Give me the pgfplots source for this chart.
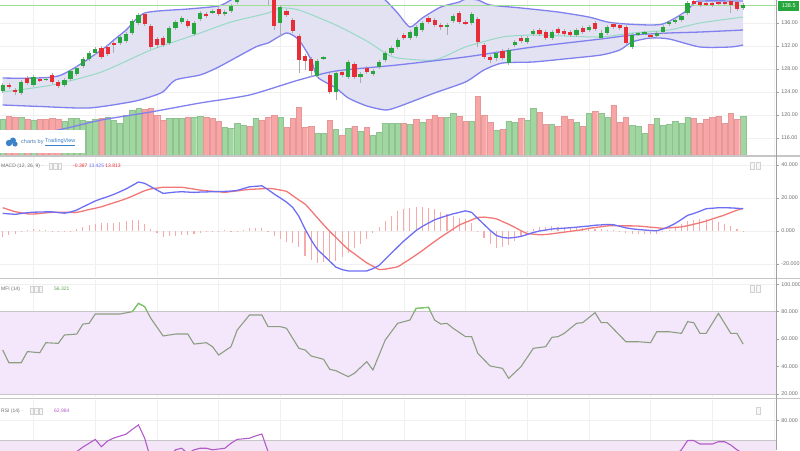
\documentclass[border=0pt]{standalone}
\usepackage{pgfplots}
\pgfplotsset{compat=1.18}
\usepackage{pgfplotstable}
\usepgfplotslibrary{fillbetween}
\usepackage{fontspec}
\setmainfont{Liberation Sans}
\setsansfont{Liberation Sans}

\definecolor{cgreen}{RGB}{38,166,60}
\definecolor{cred}{RGB}{232,45,55}
\definecolor{vgreen}{RGB}{160,214,160}
\definecolor{vred}{RGB}{248,165,166}
\definecolor{bandline}{RGB}{128,128,238}
\definecolor{bandfill}{RGB}{226,226,243}
\definecolor{midline}{RGB}{150,218,196}
\definecolor{macdblue}{RGB}{110,110,245}
\definecolor{macdred}{RGB}{242,120,120}
\definecolor{histc}{RGB}{246,170,170}
\definecolor{mfiline}{RGB}{140,158,128}
\definecolor{mfigreen}{RGB}{120,200,100}
\definecolor{mfifill}{RGB}{244,231,252}
\definecolor{rsiline}{RGB}{178,92,200}
\definecolor{rsifill}{RGB}{243,230,246}
\definecolor{lastgreen}{RGB}{160,222,150}
\definecolor{tvblue}{RGB}{60,130,200}
\definecolor{axgray}{RGB}{160,160,160}
\definecolor{txgray}{RGB}{110,110,110}

% i open high low close volume volume-up
\pgfplotstableread{
i o h l c vol vu
0 124.17 125.57 123.83 125.22 36 1
1 125.22 125.57 124.52 124.87 39 0
2 124.35 124.70 123.48 124.00 38 0
3 123.83 126.09 123.48 125.74 38 1
4 126.43 126.78 125.22 125.57 36 0
5 125.22 126.96 124.87 126.61 35 1
6 126.17 126.43 125.74 126.00 36 0
7 126.09 126.61 125.91 126.26 36 0
8 126.96 127.30 125.39 125.74 37 0
9 125.74 126.09 124.70 125.04 36 0
10 125.22 126.43 124.87 126.09 34 1
11 126.26 128.00 125.91 127.65 37 1
12 127.13 128.52 126.78 128.17 37 1
13 128.52 130.09 128.17 129.74 35 1
14 129.74 131.13 129.39 130.78 34 1
15 130.78 131.83 130.43 131.48 36 1
16 131.65 132.00 129.74 130.09 37 0
17 131.83 132.17 130.26 130.61 38 1
18 132.52 132.87 130.78 132.35 35 1
19 132.52 133.91 132.17 133.57 32 1
20 132.87 134.43 132.52 134.09 40 1
21 134.26 136.70 133.91 136.35 45 1
22 136.00 137.74 135.65 137.39 47 1
23 137.57 137.91 135.48 135.83 46 0
24 135.48 135.83 131.48 131.83 47 0
25 133.22 133.57 131.65 132.17 40 0
26 133.39 133.74 131.83 132.17 35 0
27 132.52 135.48 132.17 135.13 37 1
28 135.13 136.52 134.78 136.17 37 1
29 136.17 137.22 135.83 136.87 37 1
30 136.35 136.70 135.13 135.48 38 0
31 134.09 136.35 133.74 136.00 38 1
32 136.70 138.09 136.35 137.74 39 1
33 137.57 137.91 136.87 137.22 38 0
34 137.91 138.43 137.57 138.09 37 0
35 138.43 138.78 137.22 137.57 34 0
36 137.57 138.26 137.22 137.91 28 1
37 138.09 139.30 137.74 138.96 27 1
38 139.65 141.50 139.30 141.04 32 1
39 141.00 142.60 140.70 142.20 30 1
40 142.30 142.80 141.20 141.60 29 0
41 141.60 143.00 141.30 142.60 37 1
42 142.40 142.80 140.80 141.50 35 0
43 141.80 142.30 139.13 141.00 38 0
44 140.87 141.30 134.78 135.48 40 0
45 136.00 139.13 133.57 138.78 38 1
46 138.09 138.43 137.04 137.39 28 0
47 136.52 136.87 134.26 134.61 37 0
48 133.74 134.09 127.30 129.57 48 0
49 130.26 130.61 127.83 129.39 28 0
50 129.74 130.09 126.61 127.65 29 0
51 126.78 129.74 126.43 129.39 22 1
52 129.83 130.26 129.57 130.00 22 1
53 126.96 127.30 123.65 124.00 35 0
54 124.00 127.65 122.61 127.30 26 1
55 127.48 127.83 126.61 126.96 20 0
56 126.61 129.57 126.26 129.22 27 1
57 128.87 129.22 126.26 126.61 29 0
58 126.61 127.48 125.57 127.13 24 1
59 128.17 128.52 127.13 127.48 28 0
60 127.13 128.00 126.78 127.65 20 1
61 128.35 129.57 128.00 129.22 23 1
62 129.57 131.13 129.22 130.78 32 1
63 130.78 132.00 130.43 131.65 32 1
64 131.83 133.39 131.48 133.04 32 1
65 133.91 134.26 133.04 133.39 32 0
66 133.39 134.78 133.04 134.43 31 1
67 133.74 135.65 133.39 135.30 36 0
68 134.78 136.35 134.43 136.00 33 1
69 136.87 137.22 135.83 136.17 36 0
70 136.52 136.87 135.30 135.65 40 0
71 135.65 136.00 134.78 135.30 38 0
72 135.30 136.00 133.91 135.65 38 1
73 136.35 137.57 136.00 137.22 42 1
74 137.74 138.09 135.83 136.17 39 0
75 136.17 136.52 135.65 136.00 34 0
76 136.00 137.91 135.65 137.57 34 1
77 136.70 137.04 131.83 132.70 59 0
78 132.17 132.52 129.74 130.09 40 0
79 130.09 130.43 129.04 129.57 33 0
80 129.91 131.13 129.39 130.78 25 1
81 131.13 131.48 129.57 129.91 26 0
82 129.04 131.65 128.70 131.30 34 1
83 132.17 133.04 131.83 132.70 33 1
84 133.39 133.74 132.52 132.87 37 0
85 132.70 133.74 132.35 133.39 35 1
86 134.09 134.96 133.74 134.61 47 1
87 134.78 135.13 133.74 134.09 43 0
88 134.43 134.78 133.04 133.39 31 0
89 133.39 134.78 133.04 134.43 31 1
90 134.96 135.30 133.91 134.26 29 0
91 134.61 134.96 133.74 134.09 39 0
92 134.43 134.78 133.57 133.91 36 0
93 133.91 135.13 133.57 134.78 33 1
94 135.13 135.48 134.09 134.43 29 0
95 134.78 135.65 134.43 135.30 42 1
96 136.00 136.35 134.61 134.96 44 0
97 133.39 134.78 133.04 134.26 42 1
98 134.26 135.65 133.91 135.30 38 1
99 135.83 136.17 134.96 135.30 50 0
100 135.65 136.00 134.78 135.13 33 0
101 135.30 135.65 132.17 132.52 38 0
102 131.83 134.26 131.48 133.91 30 1
103 134.00 134.43 133.74 134.17 29 1
104 134.17 134.61 133.91 134.35 22 1
105 133.91 134.26 133.22 133.57 31 0
106 133.74 134.61 133.39 134.26 37 1
107 134.43 135.65 134.09 135.30 30 1
108 135.83 136.52 135.48 136.17 31 1
109 136.17 136.87 135.83 136.52 34 1
110 136.52 137.57 136.17 137.22 32 1
111 137.74 139.83 137.39 139.48 38 1
112 139.83 140.17 138.96 139.30 37 0
113 139.65 140.00 138.78 139.13 32 0
114 139.48 139.83 138.96 139.30 36 0
115 139.48 139.83 138.78 139.13 38 0
116 139.52 139.83 139.13 139.40 39 0
117 139.52 139.83 139.13 139.40 32 0
118 139.83 140.17 137.74 139.13 42 0
119 139.65 140.00 138.09 138.43 36 0
120 138.61 139.48 138.26 139.13 39 1
}\candles

\pgfplotstableread{
i p
0 126.43
9 126.78
16 131.30
18 133.04
20 134.78
23 137.74
30 138.43
35 138.96
37 140.00
39 141.04
42 141.74
48 143.13
55 142.61
60 141.39
62 140.00
64 137.74
66 135.30
68 136.87
71 138.78
74 139.65
75 140.17
77 140.00
79 139.13
84 138.61
90 137.91
95 137.04
98 136.17
101 135.83
105 135.65
107 135.83
109 136.87
111 138.26
112 139.48
113 139.83
120 139.83
}\bandup

\pgfplotstableread{
i p
0 124.00
8 125.22
16 127.48
24 131.30
32 134.26
37 136.17
43 137.74
45 138.61
48 138.26
54 135.65
59 132.87
62 130.78
64 129.91
70 129.57
75 131.83
81 133.57
86 133.91
91 133.74
97 133.57
102 134.26
108 134.78
113 136.00
120 137.04
}\bandmid

\pgfplotstableread{
i p
0 121.74
6 121.48
14 121.22
21 122.31
24 123.18
26 124.05
28 126.09
32 126.96
35 128.35
41 131.83
43 132.52
46 134.26
48 133.04
50 129.57
51 126.61
54 124.70
56 122.96
59 121.57
62 120.87
64 121.39
70 123.83
75 125.74
78 127.83
81 129.04
86 129.22
91 129.74
97 130.43
100 131.30
102 132.70
105 133.39
108 133.22
113 131.83
118 131.83
120 132.17
}\bandlo

\pgfplotstableread{
i p
0 115.65
9 117.39
16 119.13
24 120.52
32 122.09
40 123.48
48 126.09
54 127.65
64 128.70
75 130.09
86 131.83
97 133.22
102 133.91
108 134.26
113 134.43
120 134.78
}\longma

% MACD line m, signal s
\pgfplotstableread{
i m s
0 10.7 14.1
1 10.4 12.9
2 10.1 11.7
3 10.6 11.1
4 11.1 10.4
5 11.4 10.3
6 11.5 10.6
7 11.6 11.0
8 11.6 11.3
9 11.2 11.3
10 10.8 11.3
11 11.5 11.3
12 12.7 11.3
13 14.6 12.1
14 16.4 13.0
15 18.2 13.8
16 19.6 14.7
17 20.8 15.9
18 22.2 17.1
19 23.8 18.3
20 25.5 19.6
21 27.6 21.1
22 29.7 22.8
23 28.9 24.4
24 26.9 25.5
25 24.8 26.0
26 22.8 26.5
27 23.2 26.5
28 23.6 26.5
29 23.8 26.5
30 23.6 26.0
31 23.4 25.4
32 23.6 24.8
33 23.7 24.4
34 23.8 24.1
35 23.9 23.8
36 24.0 23.4
37 24.2 23.9
38 24.6 24.3
39 25.7 24.8
40 26.8 25.2
41 27.1 25.4
42 27.4 25.6
43 25.1 25.8
44 22.4 25.5
45 20.0 24.8
46 17.5 24.0
47 14.3 21.4
48 8.9 18.8
49 1.2 16.3
50 -5.5 12.3
51 -11.2 8.0
52 -14.7 3.8
53 -18.3 -0.2
54 -21.9 -3.9
55 -23.4 -7.6
56 -24.2 -11.1
57 -24.2 -13.8
58 -24.2 -16.6
59 -24.2 -19.3
60 -22.8 -21.3
61 -20.9 -23.3
62 -17.1 -23.1
63 -13.4 -22.4
64 -9.7 -21.7
65 -6.1 -19.4
66 -2.9 -17.0
67 0.3 -14.5
68 2.8 -11.9
69 4.8 -9.1
70 6.8 -6.4
71 8.1 -3.7
72 9.3 -1.3
73 10.4 1.2
74 11.3 3.6
75 12.2 5.2
76 11.3 6.7
77 7.6 8.2
78 4.0 8.4
79 0.4 8.0
80 -2.7 7.4
81 -3.9 5.7
82 -4.3 4.1
83 -3.9 2.2
84 -3.3 0.2
85 -2.1 -1.5
86 -0.9 -1.9
87 0.0 -2.3
88 0.6 -2.1
89 1.2 -1.7
90 1.5 -1.2
91 1.7 -0.7
92 2.0 -0.2
93 2.3 0.3
94 2.7 0.8
95 3.0 1.6
96 3.5 2.1
97 3.7 2.6
98 4.0 3.1
99 3.8 3.2
100 2.9 3.2
101 1.9 3.1
102 1.3 3.1
103 0.9 3.0
104 0.6 2.7
105 0.3 2.3
106 0.1 2.0
107 1.2 1.6
108 2.7 1.9
109 4.6 2.2
110 7.0 2.5
111 9.5 3.2
112 10.6 4.1
113 12.0 5.0
114 13.5 6.0
115 13.8 7.3
116 14.1 8.5
117 14.1 9.7
118 14.0 11.2
119 13.8 12.6
120 13.43 13.81
}\macd

\pgfplotstableread{
i v
0 52.1
1 42.8
3 42.8
4 50.9
6 50.1
7 57.4
9 56.9
10 63.0
12 63.7
13 71.0
14 71.5
15 78.3
19 78.3
21 80.0
22 86.1
23 83.7
24 75.2
26 62.3
28 63.7
30 63.7
31 56.4
32 56.9
33 57.4
34 54.5
35 48.4
37 54.5
38 66.6
40 77.6
42 77.6
43 69.1
45 69.1
46 67.9
48 53.3
49 52.1
50 47.7
52 45.3
53 38.0
54 37.0
56 32.6
57 35.1
59 43.6
60 37.5
62 59.4
64 71.5
66 73.9
67 82.4
69 83.2
70 73.9
71 71.0
72 71.5
73 67.9
75 61.8
76 61.8
77 49.6
79 40.4
81 38.7
82 31.4
84 39.9
86 53.3
88 54.5
89 61.3
90 61.8
91 64.2
93 71.5
94 72.0
96 79.3
97 72.0
98 72.0
101 58.1
103 58.1
105 57.4
106 65.4
108 65.4
110 64.2
111 72.7
112 72.0
113 64.2
114 64.2
116 78.8
118 64.2
119 64.2
120 56.4
}\mfi

\pgfplotstableread{
i v
0 55.0
4 52.0
8 57.0
11 61.0
12 64.0
13 66.3
14 68.3
15 70.3
16 66.5
17 69.5
18 71.0
19 72.0
20 73.0
21 75.5
22 77.8
23 71.0
24 60.0
26 58.0
28 64.9
29 65.7
30 63.0
31 64.9
32 65.7
33 65.7
34 64.9
36 65.7
37 68.3
38 70.3
40 70.9
41 72.1
42 73.1
43 64.0
44 60.0
46 50.0
50 35.0
54 28.0
58 32.0
62 42.0
66 52.0
70 57.0
74 58.0
78 48.0
82 40.0
86 48.0
90 53.0
94 56.0
98 58.0
102 52.0
106 56.0
109 62.0
110 64.9
111 69.7
112 69.7
113 67.9
115 67.9
116 69.1
117 69.1
118 67.4
119 64.9
120 63.0
}\rsi

\pgfplotsset{
  panel/.style={
    scale only axis, width=776pt, xmin=-0.44, xmax=125.33,
    anchor=north west,
    axis line style={draw=none},
    xtick={5,15,...,125}, xticklabels={}, major x tick style={draw=none},
    ytick pos=right, yticklabel pos=right,
    tick align=outside, major tick length=3pt,
    y tick style={draw=axgray, line width=0.5pt},
    yticklabel style={font=\fontsize{5.4}{6}\selectfont, text=txgray, xshift=-1.2pt,
      /pgf/number format/fixed, /pgf/number format/fixed zerofill,
      /pgf/number format/assume math mode=true},
    grid=major, grid style={draw=black!6, line width=0.5pt},
    clip=true,
  },
}

\begin{document}
\begin{tikzpicture}

% ---------- volume ----------
\begin{axis}[panel, at={(0pt,0pt)}, height=155pt, ymin=0, ymax=155,
  ytick=\empty, xtick=\empty, grid=none, ybar, bar width=5.4pt, bar shift=0pt]
\addplot[fill=vgreen, draw=vgreen!90!black, line width=0.3pt,
  restrict expr to domain={\thisrow{vu}}{0.5:1.5}] table[x=i,y=vol]{\candles};
\addplot[fill=vred, draw=vred!92!black, line width=0.3pt,
  restrict expr to domain={\thisrow{vu}}{-0.5:0.5}] table[x=i,y=vol]{\candles};
\end{axis}

% ---------- price ----------
\begin{axis}[panel, at={(0pt,0pt)}, height=155pt, ymin=113.04, ymax=140,
  ytick={116,120,...,136},
  yticklabel style={/pgf/number format/precision=2}]
\addplot[name path=up, draw=none, smooth, tension=0.4] table[x=i,y=p]{\bandup};
\addplot[name path=lo, draw=none, smooth, tension=0.4] table[x=i,y=p]{\bandlo};
\addplot[fill=bandfill, draw=none] fill between[of=up and lo];
\addplot[midline, line width=1pt, smooth, tension=0.4] table[x=i,y=p]{\bandmid};
\addplot[bandline, line width=1.3pt, smooth, tension=0.4] table[x=i,y=p]{\longma};
\addplot[bandline, line width=1.3pt, smooth, tension=0.4] table[x=i,y=p]{\bandup};
\addplot[bandline, line width=1.3pt, smooth, tension=0.4] table[x=i,y=p]{\bandlo};
\addplot[lastgreen, line width=0.9pt] coordinates {(-0.44,139.05) (125.33,139.05)};
% wicks
\addplot[draw=none, mark=none, error bars/.cd, y dir=both, y explicit, error mark=none,
  error bar style={draw=gray!65, line width=0.7pt, solid}]
  table[x=i, y expr={(\thisrow{h}+\thisrow{l})/2}, y error expr={(\thisrow{h}-\thisrow{l})/2}]{\candles};
% up bodies
\addplot[draw=none, mark=none, restrict expr to domain={\thisrow{c}-\thisrow{o}}{0:100},
  error bars/.cd, y dir=both, y explicit, error mark=none,
  error bar style={draw=cgreen, line width=4.2pt, solid}]
  table[x=i, y expr={(\thisrow{o}+\thisrow{c})/2}, y error expr={max(abs(\thisrow{c}-\thisrow{o})/2,0.12)}]{\candles};
% down bodies
\addplot[draw=none, mark=none, restrict expr to domain={\thisrow{c}-\thisrow{o}}{-100:-0.0001},
  error bars/.cd, y dir=both, y explicit, error mark=none,
  error bar style={draw=cred, line width=4.2pt, solid}]
  table[x=i, y expr={(\thisrow{o}+\thisrow{c})/2}, y error expr={max(abs(\thisrow{c}-\thisrow{o})/2,0.12)}]{\candles};
\end{axis}

% ---------- MACD ----------
\begin{axis}[panel, at={(0pt,-157pt)}, height=120pt, ymin=-27.88, ymax=44.85,
  ytick={-20,0,20,40}, yticklabel style={/pgf/number format/precision=3}]
\addplot[ycomb, draw=histc, line width=1.1pt] table[x=i, y expr={\thisrow{m}-\thisrow{s}}]{\macd};
\addplot[macdred, line width=1.3pt, smooth, tension=0.4] table[x=i,y=s]{\macd};
\addplot[macdblue, line width=1.3pt] table[x=i,y=m]{\macd};
\end{axis}

% ---------- MFI ----------
\begin{axis}[panel, at={(0pt,-280pt)}, height=117pt, ymin=17.8, ymax=103.1,
  ytick={20,40,...,100}, yticklabel style={/pgf/number format/precision=3}]
\addplot[draw=none, fill=mfifill] coordinates {(-0.44,20) (125.33,20) (125.33,80) (-0.44,80)} -- cycle;
\addplot[gray!45, line width=0.7pt] coordinates {(-0.44,80) (125.33,80)};
\addplot[gray!45, line width=0.7pt] coordinates {(-0.44,20) (125.33,20)};
\addplot[mfiline, line width=1.1pt] table[x=i,y=v]{\mfi};
\begin{scope}
\clip (axis cs:-0.44,80) rectangle (axis cs:125.33,103.1);
\addplot[mfigreen, line width=1.1pt] table[x=i,y=v]{\mfi};
\end{scope}
\end{axis}

% ---------- RSI ----------
\begin{axis}[panel, at={(0pt,-400pt)}, height=50pt, ymin=64.8, ymax=90.7,
  ytick={80}, yticklabel style={/pgf/number format/precision=3}]
\addplot[draw=none, fill=rsifill] coordinates {(-0.44,30) (125.33,30) (125.33,70) (-0.44,70)} -- cycle;
\addplot[gray!45, line width=0.7pt] coordinates {(-0.44,70) (125.33,70)};
\addplot[rsiline, line width=1.1pt] table[x=i,y=v]{\rsi};
\end{axis}

% ---------- frame ----------
\draw[gray!45, line width=1.6pt] (0pt,-156pt) -- (800pt,-156pt);
\draw[gray!45, line width=1.6pt] (0pt,-278.5pt) -- (800pt,-278.5pt);
\draw[gray!45, line width=1.6pt] (0pt,-398.5pt) -- (800pt,-398.5pt);
\draw[axgray, line width=0.8pt] (776.5pt,0pt) -- (776.5pt,-450pt);

% last price badge
\node[fill=cgreen, text=white, font=\fontsize{5.5}{6}\selectfont, inner sep=1.2pt,
  minimum width=21pt, minimum height=10pt, anchor=west] at (778pt,-5.5pt) {138.5};

% TradingView box
\fill[white] (0pt,-130pt) rectangle (85pt,-153pt);
\fill[tvblue] (9pt,-143pt) circle (3.2pt);
\fill[tvblue] (13pt,-140.5pt) circle (3pt);
\fill[tvblue] (15pt,-144pt) circle (2.6pt);
\node[anchor=west, inner sep=0pt, font=\fontsize{5.5}{6}\selectfont, text=tvblue!70!gray] at (21pt,-142pt) {charts by};
\node[anchor=west, inner sep=0pt, font=\fontsize{5.5}{6}\selectfont, text=tvblue] at (45pt,-142pt) {\underline{TradingView}};

% headers
\node[anchor=west, inner sep=0pt, font=\fontsize{5}{6}\selectfont, text=txgray] at (1pt,-166pt) {MACD (12, 26, 9) $\cdot$};
\foreach \xx in {49,53.5,58} {\draw[gray!35, fill=gray!6, line width=0.4pt] (\xx pt,-163pt) rectangle (\xx pt+3.6pt,-169pt);}
\node[anchor=west, inner sep=0pt, font=\fontsize{5}{6}\selectfont] at (73pt,-166pt)
  {\textcolor{cred}{-0.387}\ \textcolor{macdblue}{13.425}\ \textcolor{cred}{13.813}};
\node[anchor=west, inner sep=0pt, font=\fontsize{5}{6}\selectfont, text=txgray] at (1pt,-289pt) {MFI (14) $\cdot$};
\foreach \xx in {30,34.5,39} {\draw[gray!35, fill=gray!6, line width=0.4pt] (\xx pt,-286pt) rectangle (\xx pt+3.6pt,-292pt);}
\node[anchor=west, inner sep=0pt, font=\fontsize{5}{6}\selectfont, text=mfigreen!80!black] at (54pt,-289pt) {56.321};
\node[anchor=west, inner sep=0pt, font=\fontsize{5}{6}\selectfont, text=txgray] at (1pt,-411pt) {RSI (14) $\cdot$};
\foreach \xx in {30,34.5,39} {\draw[gray!35, fill=gray!6, line width=0.4pt] (\xx pt,-408pt) rectangle (\xx pt+3.6pt,-414pt);}
\node[anchor=west, inner sep=0pt, font=\fontsize{5}{6}\selectfont, text=rsiline] at (54pt,-411pt) {62.984};
% right-top panel icons
\foreach \yy in {165,288} {\draw[gray!35, fill=gray!6, line width=0.4pt] (750pt,-\yy pt+3pt) rectangle (754pt,-\yy pt-4pt);
  \draw[gray!35, fill=gray!6, line width=0.4pt] (756pt,-\yy pt+3pt) rectangle (760pt,-\yy pt-4pt);}
\draw[gray!35, fill=gray!6, line width=0.4pt] (756pt,-407pt) rectangle (760pt,-414pt);

\pgfresetboundingbox
\path[use as bounding box] (0pt,0pt) rectangle (800pt,-450pt);
\end{tikzpicture}
\end{document}
